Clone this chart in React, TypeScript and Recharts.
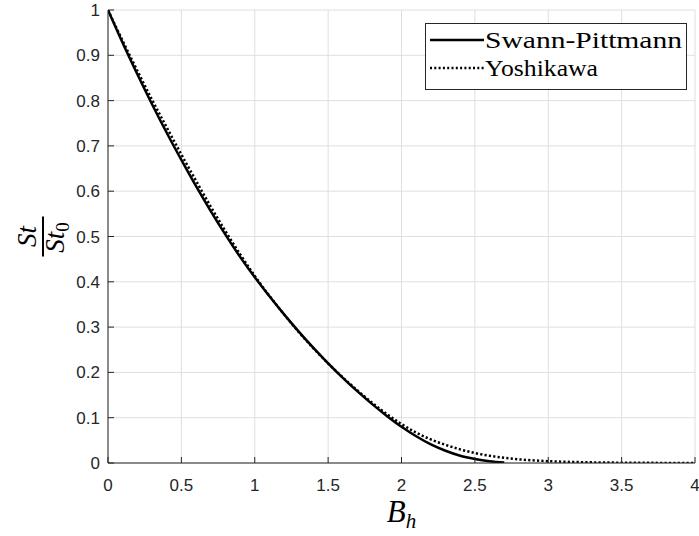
import React from "react";
import { CartesianGrid, Legend, Line, LineChart, XAxis, YAxis } from "recharts";

// B_h sample points and St/St0
const swannBh = [0, 0.1, 0.2, 0.3, 0.4, 0.5, 0.6, 0.7, 0.8, 0.9, 1.0, 1.1, 1.2, 1.3, 1.4, 1.5, 1.6, 1.7, 1.8, 1.9, 2.0, 2.1, 2.2, 2.3, 2.4, 2.5, 2.6, 2.7];
const swannSt = [1.0, 0.927, 0.858, 0.792, 0.729, 0.669, 0.611, 0.556, 0.504, 0.455, 0.41, 0.368, 0.328, 0.29, 0.254, 0.22, 0.188, 0.158, 0.13, 0.104, 0.08, 0.059, 0.041, 0.027, 0.016, 0.009, 0.004, 0.001];

const yoshiBh = [0, 0.1, 0.2, 0.3, 0.4, 0.5, 0.6, 0.7, 0.8, 0.9, 1.0, 1.1, 1.2, 1.3, 1.4, 1.5, 1.6, 1.7, 1.8, 1.9, 2.0, 2.1, 2.2, 2.3, 2.4, 2.5, 2.6, 2.7, 2.8, 2.9, 3.0, 3.2, 3.4, 3.6, 3.8, 4.0];
const yoshiSt = [1.0, 0.932, 0.866, 0.802, 0.741, 0.681, 0.623, 0.566, 0.512, 0.461, 0.413, 0.369, 0.328, 0.289, 0.253, 0.22, 0.189, 0.16, 0.133, 0.108, 0.086, 0.067, 0.052, 0.04, 0.03, 0.022, 0.016, 0.0115, 0.008, 0.0058, 0.004, 0.002, 0.001, 0.0005, 0.0002, 0.0001];

const xTicks = [0, 0.5, 1, 1.5, 2, 2.5, 3, 3.5, 4];
const yTicks = [0, 0.1, 0.2, 0.3, 0.4, 0.5, 0.6, 0.7, 0.8, 0.9, 1];

const seriesNames = ["Swann-Pittmann", "Yoshikawa"];

const swannData = swannBh.map((b, i) => ({ bh: b, st: swannSt[i] }));
const yoshiData = yoshiBh.map((b, i) => ({ bh: b, st: yoshiSt[i] }));

const AX = "#262626";
const GRID = "#dfdfdf";
const TICK_LEN = 6;
const sans = "'Liberation Sans', Arial, sans-serif";
const serif = "'Liberation Serif', 'Times New Roman', serif";

const BottomTick = (p: any) => (
  <g>
    <line x1={p.x} x2={p.x} y1={p.y} y2={p.y - TICK_LEN} stroke={AX} />
    <text x={p.x} y={p.y + 28} textAnchor="middle" fontFamily={sans} fontSize={17} fill={AX}>
      {p.payload.value}
    </text>
  </g>
);
const TopTick = (p: any) => (
  <line x1={p.x} x2={p.x} y1={p.y} y2={p.y + TICK_LEN} stroke={AX} />
);
const LeftTick = (p: any) => (
  <g>
    <line x1={p.x} x2={p.x + TICK_LEN} y1={p.y} y2={p.y} stroke={AX} />
    <text x={p.x - 8} y={p.y + 6} textAnchor="end" fontFamily={sans} fontSize={17} fill={AX}>
      {p.payload.value}
    </text>
  </g>
);
const RightTick = (p: any) => (
  <line x1={p.x} x2={p.x - TICK_LEN} y1={p.y} y2={p.y} stroke={AX} />
);

const YLabel = (p: any) => {
  const vb = p.viewBox;
  const cy = vb.y + vb.height / 2;
  return (
    <g transform={`translate(43, ${cy}) rotate(-90)`} fontFamily={serif} fontStyle="italic" fill="#000">
      <text x={0} y={-7} textAnchor="middle" fontSize={27}>St</text>
      <line x1={-20} x2={20} y1={0} y2={0} stroke="#000" strokeWidth={2} />
      <text x={-1} y={21} textAnchor="middle" fontSize={27}>
        St<tspan fontSize={19} fontStyle="normal" dy={5}>0</tspan>
      </text>
    </g>
  );
};

const XLabel = (p: any) => {
  const vb = p.viewBox;
  return (
    <text x={vb.x + vb.width / 2} y={522} textAnchor="middle" fontFamily={serif} fontStyle="italic" fontSize={31} fill="#000">
      B<tspan fontSize={21} dy={6}>h</tspan>
    </text>
  );
};

const LegendBox = () => (
  <svg width={262} height={67} style={{ display: "block", background: "#fff" }}>
    <rect x={0.5} y={0.5} width={261} height={66} fill="#fff" stroke={AX} />
    <line x1={5} x2={59} y1={17} y2={17} stroke="#000" strokeWidth={2.5} />
    <text x={60} y={25} fontFamily={serif} fontSize={23} textLength={197} lengthAdjust="spacingAndGlyphs">{seriesNames[0]}</text>
    <line x1={5} x2={59} y1={45} y2={45} stroke="#000" strokeWidth={2.5} strokeDasharray="2 2.3" />
    <text x={60} y={53} fontFamily={serif} fontSize={23} textLength={113} lengthAdjust="spacingAndGlyphs">{seriesNames[1]}</text>
  </svg>
);

export default function App() {
  return (
    <div style={{ width: 699, height: 536, position: "relative", background: "#fff" }}>
      <style>{"body{margin:0;background:#fff}"}</style>
      <LineChart width={699} height={536} margin={{ top: 10, right: 4, bottom: 0, left: 0 }}>
        <CartesianGrid xAxisId="b" yAxisId="l" stroke={GRID} horizontalValues={yTicks} verticalValues={xTicks} />
        <XAxis xAxisId="b" dataKey="bh" type="number" domain={[0, 4]} ticks={xTicks} allowDataOverflow height={73}
          tickSize={0} tickMargin={0} tickLine={false} axisLine={{ stroke: AX }} tick={BottomTick} interval={0}
          label={{ content: XLabel }} />
        <XAxis xAxisId="t" orientation="top" dataKey="bh" type="number" domain={[0, 4]} ticks={xTicks} height={0}
          tickSize={0} tickMargin={0} tickLine={false} axisLine={{ stroke: AX }} tick={TopTick} interval={0} />
        <YAxis yAxisId="l" type="number" domain={[0, 1]} ticks={yTicks} width={108} allowDataOverflow
          tickSize={0} tickMargin={0} tickLine={false} axisLine={{ stroke: AX }} tick={LeftTick} interval={0}
          label={{ content: YLabel }} />
        <YAxis yAxisId="r" orientation="right" type="number" domain={[0, 1]} ticks={yTicks} width={0}
          tickSize={0} tickMargin={0} tickLine={false} axisLine={{ stroke: AX }} tick={RightTick} interval={0} />
        <Line xAxisId="b" yAxisId="l" data={swannData} dataKey="st" name={seriesNames[0]} type="monotone"
          stroke="#000" strokeWidth={2.5} dot={false} isAnimationActive={false} />
        <Line xAxisId="b" yAxisId="l" data={yoshiData} dataKey="st" name={seriesNames[1]} type="monotone"
          stroke="#000" strokeWidth={2.5} strokeDasharray="2.2 2.2" dot={false} isAnimationActive={false} />
        <Legend layout="vertical" align="center" verticalAlign="middle" content={LegendBox}
          wrapperStyle={{ position: "absolute", left: 425, top: 23, width: 262, height: 67 }} />
      </LineChart>
    </div>
  );
}
